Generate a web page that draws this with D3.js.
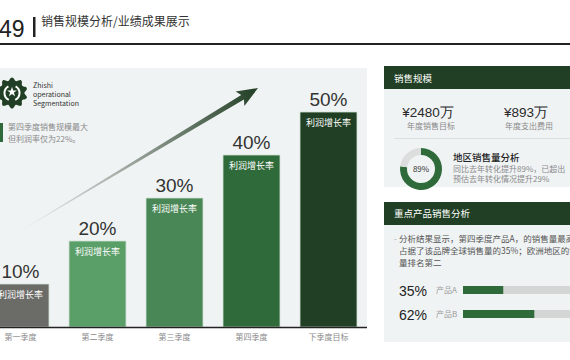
<!DOCTYPE html>
<meta charset="utf-8">
<style>
  body { margin: 0; background: #fff; }
  svg { display: block; font-family: "Noto Sans CJK SC", "Noto Sans", sans-serif; }
  .num { font-family: "Liberation Sans", Arial, sans-serif; }
</style>
<script src="https://d3js.org/d3.v7.min.js"></script>
<body>
<script>

// chart data
var quarters = ["第一季度", "第二季度", "第三季度", "第四季度", "下季度目标"];
var growth = [10, 20, 30, 40, 50];
var barColors = ["#6b6b68", "#5a9e68", "#4a8756", "#2f6a3a", "#213f24"];

var kpiValues = ["¥2480万", "¥893万"];
var kpiLabels = ["年度销售目标", "年度支出费用"];

var donutText = "89%";
var donutShare = 0.77; // arc as drawn in the picture

var products = ["产品A", "产品B"];
var productShares = [35, 62];

var width = 570, height = 360;
var green = "#213f24", panel = "#f0f3f4";

var svg = d3.select("body").append("svg")
    .attr("width", width)
    .attr("height", height);

// header
svg.append("text").attr("class", "num")
    .attr("x", -1).attr("y", 37)
    .attr("font-size", 23).attr("fill", "#222")
    .text("49");
svg.append("rect").attr("x", 33).attr("y", 17).attr("width", 2.5).attr("height", 20).attr("fill", "#222");
svg.append("text")
    .attr("x", 41).attr("y", 26)
    .attr("font-size", 12).attr("fill", "#333")
    .text("销售规模分析/业绩成果展示");
svg.append("rect").attr("x", 0).attr("y", 43).attr("width", width).attr("height", 2).attr("fill", "#222");

// left panel
svg.append("rect").attr("x", 0).attr("y", 68).attr("width", 367).attr("height", 260).attr("fill", panel);

var defs = svg.append("defs");
defs.append("clipPath").attr("id", "leftClip")
  .append("rect").attr("x", 0).attr("y", 60).attr("width", 367).attr("height", 300);

var grad = defs.append("linearGradient")
    .attr("id", "arrowGrad")
    .attr("gradientUnits", "userSpaceOnUse")
    .attr("x1", 12).attr("y1", 236).attr("x2", 258).attr("y2", 88);
grad.append("stop").attr("offset", 0).attr("stop-color", "#f0f3f4");
grad.append("stop").attr("offset", 0.45).attr("stop-color", "#a3aba4");
grad.append("stop").attr("offset", 1).attr("stop-color", green);

// logo
var logo = svg.append("g").attr("transform", "translate(12,93)");
var petals = d3.range(0, 361, 5).map(function(a) {
  var t = a * Math.PI / 180;
  return [t, 14 + 1.6 * Math.cos(10 * t)];
});
logo.append("path")
    .attr("d", d3.lineRadial().curve(d3.curveCardinalClosed)(petals))
    .attr("fill", green);
logo.append("path")
    .attr("d", d3.symbol(d3.symbolStar, 30)())
    .attr("transform", "translate(0,-1)")
    .attr("fill", "#fff");
[-1, 1].forEach(function(s) {
  logo.append("path")
      .attr("d", d3.arc()({ innerRadius: 6.5, outerRadius: 8.5, startAngle: s * 0.5, endAngle: s * 2.7 }))
      .attr("fill", "#fff");
});
["Zhishi", "operational", "Segmentation"].forEach(function(t, i) {
  svg.append("text")
      .attr("x", 33).attr("y", 88 + i * 9)
      .attr("font-size", 7).attr("fill", "#333")
      .text(t);
});

// note
svg.append("rect").attr("x", 0).attr("y", 123).attr("width", 3).attr("height", 19).attr("fill", "#2f6a3a");
["第四季度销售规模最大", "但利润率仅为22%。"].forEach(function(t, i) {
  svg.append("text")
      .attr("x", 8).attr("y", 130 + i * 11.5)
      .attr("font-size", 8).attr("fill", "#8a8a8a")
      .text(t);
});

// arrow
var tip = [258, 88], tail = [12, 236];
var dx = tip[0] - tail[0], dy = tip[1] - tail[1], len = Math.hypot(dx, dy);
var ux = dx / len, uy = dy / len, px = -uy, py = ux;
function pt(a, b) { return [tip[0] - ux * a + px * b, tip[1] - uy * a + py * b]; }
svg.append("path")
    .attr("d", d3.line()([
      [tail[0], tail[1]],
      pt(18, 2.6), pt(21, 8.5), tip, pt(21, -8.5), pt(18, -2.6)
    ]) + "Z")
    .attr("fill", "url(#arrowGrad)");

// bars
var x = d3.scaleBand().domain(quarters).range([-18, 367]).paddingInner(0.26).paddingOuter(0.13);
var y = d3.scaleLinear().domain([0, 50]).range([327, 112]);
var color = d3.scaleOrdinal().domain(quarters).range(barColors);

var bars = svg.append("g").attr("clip-path", "url(#leftClip)")
  .selectAll("g").data(quarters).enter().append("g");

bars.append("rect")
    .attr("x", function(d) { return x(d); })
    .attr("y", function(d, i) { return y(growth[i]); })
    .attr("width", x.bandwidth())
    .attr("height", function(d, i) { return y(0) - y(growth[i]); })
    .attr("fill", function(d) { return color(d); })
    .attr("stroke", "#cfe0d2").attr("stroke-width", 0.8);

bars.append("text")
    .attr("x", function(d) { return x(d) + x.bandwidth() / 2; })
    .attr("y", function(d, i) { return y(growth[i]) + 14; })
    .attr("text-anchor", "middle")
    .attr("font-size", 9).attr("fill", "#fff")
    .text("利润增长率");

bars.append("text").attr("class", "num")
    .attr("x", function(d) { return x(d) + x.bandwidth() / 2; })
    .attr("y", function(d, i) { return y(growth[i]) - 6; })
    .attr("text-anchor", "middle")
    .attr("font-size", 19).attr("fill", "#333")
    .text(function(d, i) { return growth[i] + "%"; });

var axis = svg.append("g").attr("transform", "translate(0,327)")
    .call(d3.axisBottom(x).tickSize(0).tickPadding(7));
axis.select(".domain").attr("stroke", "#222").attr("stroke-width", 1.5).attr("d", "M0,0.5H367");
axis.selectAll("text")
    .attr("font-size", 8).attr("fill", "#8a8a8a")
    .attr("font-family", "Noto Sans CJK SC");

// right panel 1
svg.append("rect").attr("x", 384).attr("y", 66).attr("width", 186).attr("height", 23).attr("fill", green);
svg.append("text").attr("x", 394).attr("y", 81.5).attr("font-size", 9.5).attr("fill", "#fff").text("销售规模");
svg.append("rect").attr("x", 384).attr("y", 89).attr("width", 186).attr("height", 98).attr("fill", panel);

var kx = d3.scalePoint().domain(kpiLabels).range([431, 529]);
kpiLabels.forEach(function(l, i) {
  svg.append("text").attr("class", "num")
      .attr("x", kx(l) - 3).attr("y", 117)
      .attr("text-anchor", "middle")
      .attr("font-size", 13.5).attr("fill", "#2a2a2a")
      .text(kpiValues[i]);
  svg.append("text")
      .attr("x", kx(l)).attr("y", 129)
      .attr("text-anchor", "middle")
      .attr("font-size", 8).attr("fill", "#8a8a8a")
      .text(l);
});
svg.append("line").attr("x1", 394).attr("x2", 570).attr("y1", 138.5).attr("y2", 138.5)
    .attr("stroke", "#dcdfe0");

var donut = svg.append("g").attr("transform", "translate(421,169)");
var pie = d3.pie().sort(null)([donutShare, 1 - donutShare]);
var arc = d3.arc().innerRadius(14).outerRadius(21);
donut.selectAll("path").data(pie).enter().append("path")
    .attr("d", arc)
    .attr("fill", function(d, i) { return i === 0 ? "#2f6a3a" : "#dcdedd"; });
donut.append("text").attr("y", 3).attr("text-anchor", "middle")
    .attr("font-size", 8).attr("fill", "#333").text(donutText);

svg.append("text").attr("x", 453).attr("y", 160.5)
    .attr("font-size", 9.5).attr("font-weight", 500).attr("fill", "#222").text("地区销售量分析");
["同比去年转化提升89%，已超出", "预估去年转化情况提升29%"].forEach(function(t, i) {
  svg.append("text").attr("x", 453).attr("y", 171.5 + i * 10.5)
      .attr("font-size", 8).attr("fill", "#8a8a8a").text(t);
});

// right panel 2
svg.append("rect").attr("x", 384).attr("y", 202).attr("width", 186).attr("height", 23).attr("fill", green);
svg.append("text").attr("x", 394).attr("y", 217).attr("font-size", 9.5).attr("fill", "#fff").text("重点产品销售分析");
svg.append("rect").attr("x", 384).attr("y", 225).attr("width", 186).attr("height", 117).attr("fill", panel);

svg.append("text").attr("x", 394).attr("y", 242).attr("font-size", 8).attr("fill", "#aaa").text("-");
["分析结果显示，第四季度产品A，的销售量最高，", "占据了该品牌全球销售量的35%；欧洲地区的销售", "量排名第二"].forEach(function(t, i) {
  svg.append("text").attr("x", 399).attr("y", 242 + i * 12)
      .attr("font-size", 8.5).attr("fill", "#555").text(t);
});

var px2 = d3.scaleLinear().domain([0, 100]).range([463, 578]);
var py2 = d3.scalePoint().domain(products).range([290, 314]);
products.forEach(function(p, i) {
  var cy = py2(p);
  svg.append("text").attr("class", "num")
      .attr("x", 399).attr("y", cy + 5.5)
      .attr("font-size", 14).attr("fill", "#222")
      .text(productShares[i] + "%");
  svg.append("text")
      .attr("x", 436).attr("y", cy + 3)
      .attr("font-size", 8).attr("fill", "#9a9a9a")
      .text(p);
  svg.append("rect").attr("x", px2(0)).attr("y", cy - 4)
      .attr("width", px2(100) - px2(0)).attr("height", 8).attr("fill", "#d4d6d5");
  svg.append("rect").attr("x", px2(0)).attr("y", cy - 4)
      .attr("width", px2(productShares[i]) - px2(0)).attr("height", 8).attr("fill", "#2f6a3a");
});

</script>
</body>
